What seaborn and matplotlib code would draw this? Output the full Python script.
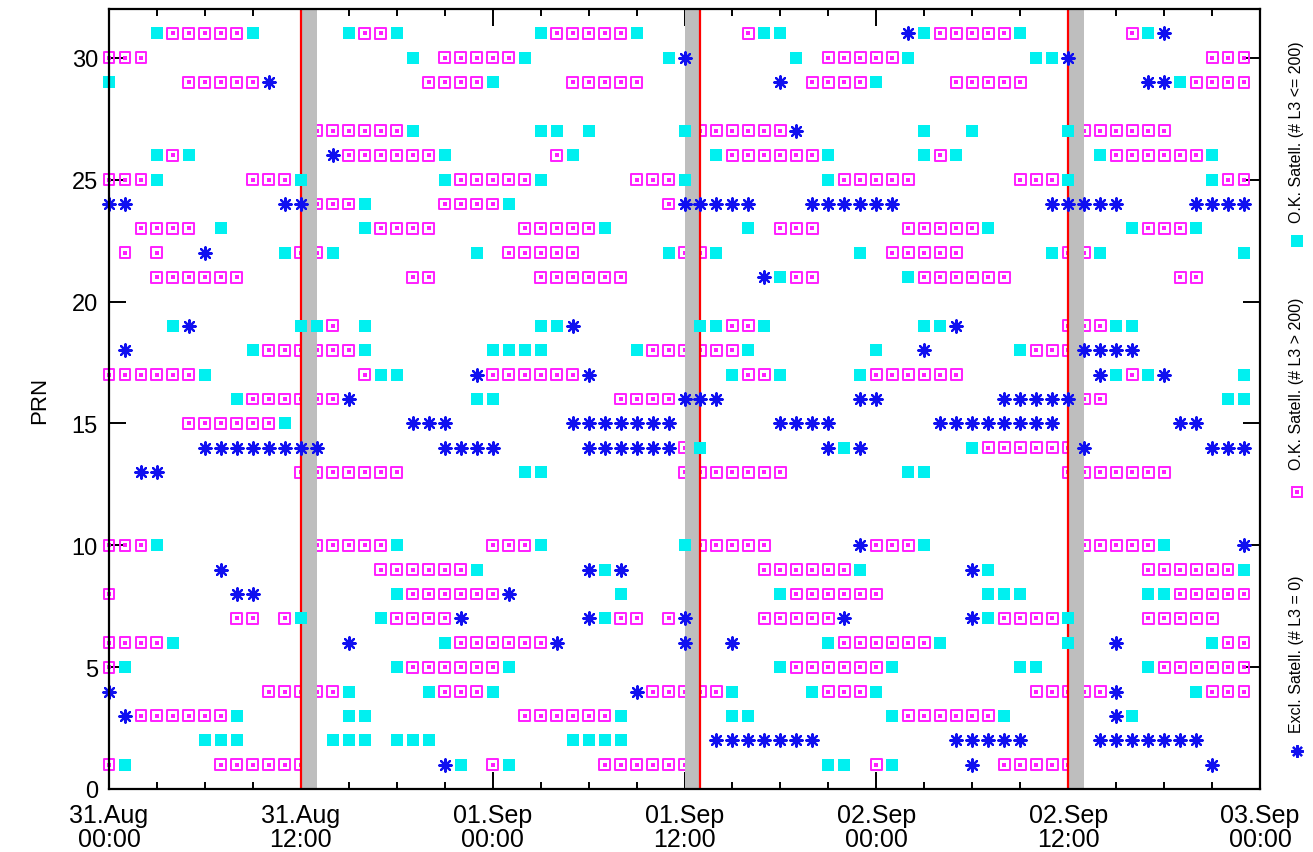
import matplotlib
matplotlib.use("Agg")
import matplotlib.pyplot as plt
from matplotlib.lines import Line2D
from matplotlib.ticker import MultipleLocator
import pandas as pd
import seaborn as sns

# Hourly satellite status per PRN, hours counted from 31.Aug 00:00.
# "a-b" means every hour from a to b inclusive.
OK_LOW = {  # O.K. Satell. (# L3 <= 200)
    31: "3 9 15 18 27 33 41 42 51 57 65",
    30: "19 26 35 43 50 58 59",
    29: "0 24 48 67",
    27: "19 27 28 30 36 51 54 60",
    26: "3 5 21 29 38 45 51 53 62 69",
    25: "3 12 21 27 36 45 60 69",
    24: "16 25",
    23: "7 16 31 40 55 64 68",
    22: "11 14 23 35 38 47 59 62 71",
    21: "42 50",
    19: "4 12 13 16 27 28 37 38 41 51 52 63 64",
    18: "9 16 24-27 33 40 48 57",
    17: "6 17 18 39 42 47 63 65 71",
    16: "8 23 24 70 71",
    15: "11",
    14: "37 46 54",
    13: "26 27 50 51",
    10: "3 18 27 36 51 66",
    9: "23 31 47 55 71",
    8: "18 32 42 55-57 65 66",
    7: "12 17 31 55 60",
    6: "4 21 45 52 60 69",
    5: "1 18 25 42 49 57 58 65",
    4: "15 20 24 39 44 48 68",
    3: "8 15 16 32 39 40 49 56 64",
    2: "6-8 14-16 18-20 29-32",
    1: "1 22 25 45 46 49",
}

OK_HIGH = {  # O.K. Satell. (# L3 > 200)
    31: "4-8 16 17 28-32 40 52-56 64",
    30: "0-2 21-25 45-49 69-71",
    29: "5-9 20-23 29-33 44-47 53-57 68-71",
    27: "13-18 37-42 61-66",
    26: "4 15-20 28 39-44 52 63-68",
    25: "0-2 9-11 22-26 33-35 46-50 57-59 70 71",
    24: "13-15 21-24 35",
    23: "2-5 17-20 26-30 42-44 50-54 65-67",
    22: "1 3 12 13 25-29 36 37 49-53 60 61",
    21: "3-8 19 20 27-32 43 44 51-56 67 68",
    19: "14 39 40 60-62",
    18: "10-15 34-39 58-60",
    17: "0-5 16 24-29 40 41 48-53 64",
    16: "9-14 32-35 61 62",
    15: "5-10",
    14: "36 55-60",
    13: "12-18 36-42 60-66",
    10: "0-2 13-17 24-26 37-41 48-50 61-65",
    9: "17-22 41-46 65-70",
    8: "0 19-24 43-48 67-71",
    7: "8 9 11 18-21 32 33 35 41-45 56-59 65-69",
    6: "0-3 22-27 46-51 70 71",
    5: "0 19-24 43-48 66-71",
    4: "10-14 21-23 34-38 45-47 58-62 69-71",
    3: "2-7 26-31 50-55",
    1: "0 7-12 24 31-36 48 56-60",
}

EXCLUDED = {  # Excl. Satell. (# L3 = 0)
    31: "50 66",
    30: "36 60",
    29: "10 42 65 66",
    27: "43",
    26: "14",
    24: "0 1 11 12 36-40 44-49 59-63 68-71",
    22: "6",
    21: "41",
    19: "5 29 53",
    18: "1 51 61-64",
    17: "23 30 62 66",
    16: "15 36-38 47 48 56-60",
    15: "19-21 29-35 42-45 52-59 67 68",
    14: "6-13 21-24 30-35 45 47 61 69-71",
    13: "2 3",
    10: "47 71",
    9: "7 30 32 54",
    8: "8 9 25",
    7: "22 30 36 46 54",
    6: "15 28 36 39 63",
    4: "0 33 63",
    3: "1 63",
    2: "38-44 53-57 62-68",
    1: "21 54 69",
}

TICK_HOURS = [0, 12, 24, 36, 48, 60, 72]
TICK_LABELS = ["31.Aug\n00:00", "31.Aug\n12:00", "01.Sep\n00:00", "01.Sep\n12:00",
               "02.Sep\n00:00", "02.Sep\n12:00", "03.Sep\n00:00"]
PRN_TICKS = [0, 5, 10, 15, 20, 25, 30]
RED_LINES = [12, 37, 60]
GRAY_BANDS = [(12, 13), (36, 37), (60, 61)]

LABEL_LOW = "O.K. Satell. (# L3 <= 200)"
LABEL_HIGH = "O.K. Satell. (# L3 > 200)"
LABEL_EXCL = "Excl. Satell. (# L3 = 0)"

CYAN = "#00F0F0"
MAGENTA = "#FF1EFF"
BLUE = "#1010F0"


def to_frame(table):
    rows = []
    for prn, spec in table.items():
        for tok in spec.split():
            if "-" in tok:
                a, b = map(int, tok.split("-"))
                rows += [(h, prn) for h in range(a, b + 1)]
            else:
                rows.append((int(tok), prn))
    return pd.DataFrame(rows, columns=["hour", "prn"])


low = to_frame(OK_LOW)
high = to_frame(OK_HIGH)
excl = to_frame(EXCLUDED)

sns.set_theme(style="ticks")
plt.rcParams["font.family"] = ["Liberation Sans", "DejaVu Sans"]

W, H = 1313, 853
fig = plt.figure(figsize=(W / 100, H / 100), dpi=100)
ax = fig.add_axes([109 / W, 1 - 790 / H, (1260 - 109) / W, (790 - 10) / H])

asterisk = (8, 2, 0)

# open squares with a small centre mark
sns.scatterplot(data=high, x="hour", y="prn", marker="s", s=62,
                facecolor="none", edgecolor=MAGENTA, linewidth=1.4,
                zorder=2, clip_on=False, ax=ax, legend=False)
ax.collections[-1].set_facecolor("none")
ax.collections[-1].set_edgecolor(MAGENTA)
sns.scatterplot(data=high, x="hour", y="prn", marker="s", s=5,
                color=MAGENTA, linewidth=0, zorder=2, clip_on=False,
                ax=ax, legend=False)

for a, b in GRAY_BANDS:
    ax.axvspan(a, b, color="#BEBEBE", lw=0, zorder=3)
for x in RED_LINES:
    ax.axvline(x, color="#FF0000", lw=1.6, zorder=3.5)

sns.scatterplot(data=low, x="hour", y="prn", marker="s", s=78,
                color=CYAN, linewidth=0, zorder=4, clip_on=False,
                ax=ax, legend=False)
sns.scatterplot(data=excl, x="hour", y="prn", marker=asterisk, s=80,
                color=BLUE, linewidth=1.6, zorder=5, clip_on=False,
                ax=ax, legend=False)
ax.collections[-1].set_edgecolor(BLUE)

ax.set_xlim(0, 72)
ax.set_ylim(0, 32)
ax.set_xticks(TICK_HOURS, TICK_LABELS)
ax.xaxis.set_minor_locator(MultipleLocator(3))
ax.set_yticks(PRN_TICKS)
ax.set_xlabel("")
ax.set_ylabel("")
ax.tick_params(which="both", direction="in", top=True, right=True,
               color="black", width=1.4)
ax.tick_params(which="major", length=12, labelcolor="black")
ax.tick_params(axis="x", which="major", labelsize=18, pad=10)
ax.tick_params(axis="y", which="major", labelsize=17, pad=8)
ax.tick_params(which="minor", length=5)
ax.tick_params(axis="y", which="minor", left=False, right=False)
for lbl in ax.get_xticklabels():
    lbl.set_linespacing(1.0)
for sp in ax.spines.values():
    sp.set_color("black")
    sp.set_linewidth(1.6)
    sp.set_zorder(6)

fig.text(40 / W, 1 - 400 / H, "PRN", rotation=90, ha="center", va="center",
         fontsize=16, color="black")

# vertical key on the right
kx = 1297 / W
key = [
    (242, 223, LABEL_LOW, "low"),
    (493, 470, LABEL_HIGH, "high"),
    (752, 733, LABEL_EXCL, "excl"),
]
for my, ty, text, kind in key:
    yy = 1 - my / H
    if kind == "low":
        fig.add_artist(Line2D([kx], [yy], marker="s", ms=8.8, ls="none",
                              mfc=CYAN, mec=CYAN, mew=0, transform=fig.transFigure))
    elif kind == "high":
        fig.add_artist(Line2D([kx], [yy], marker="s", ms=7.9, ls="none",
                              mfc="none", mec=MAGENTA, mew=1.4, transform=fig.transFigure))
        fig.add_artist(Line2D([kx], [yy], marker="s", ms=2.2, ls="none",
                              mfc=MAGENTA, mec=MAGENTA, mew=0, transform=fig.transFigure))
    else:
        fig.add_artist(Line2D([kx], [yy], marker=asterisk, ms=9, ls="none",
                              mec=BLUE, mew=1.6, transform=fig.transFigure))
    fig.text(kx, 1 - ty / H, text, rotation=90, ha="center", va="bottom",
             fontsize=11.5, color="black")

fig.savefig("out.png", dpi=100)
